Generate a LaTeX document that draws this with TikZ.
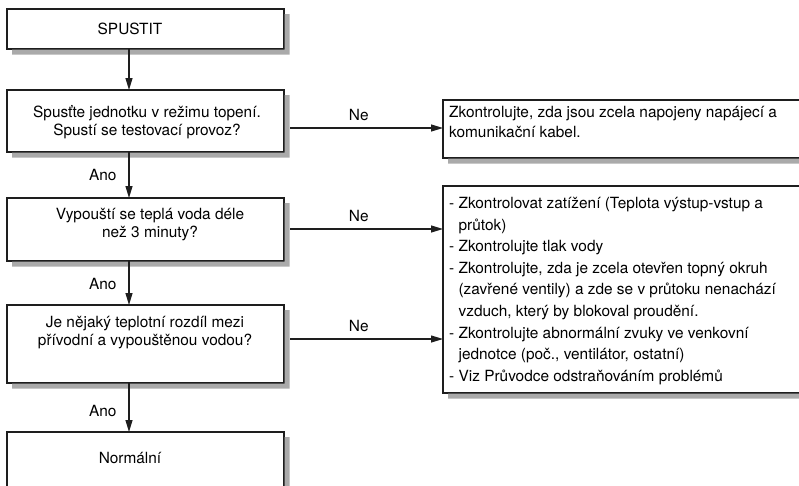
\documentclass[tikz,border=0pt]{standalone}
\usepackage{fontspec}
\setmainfont{TeX Gyre Heros}
\usetikzlibrary{arrows.meta}
\definecolor{shadowgray}{RGB}{170,170,170}
\definecolor{linegray}{RGB}{30,30,30}
\begin{document}
\begin{tikzpicture}[x=1pt,y=-1pt,
  box/.style={draw=linegray, line width=1.1pt, fill=white, inner sep=0pt, outer sep=0pt, anchor=north west},
  lbox/.style={box, minimum width=277pt},
  rbox/.style={box, minimum width=390pt},
  shadowbox/.style={fill=shadowgray, draw=none},
  txt/.style={inner sep=0pt, font=\fontsize{15.4}{18}\selectfont, align=center},
  rtxt/.style={inner sep=0pt, anchor=north west, align=left},
  arr/.style={draw=linegray, line width=1.1pt, -{Triangle[length=12pt,width=7pt]}},
  lab/.style={inner sep=0pt, font=\fontsize{15.4}{18}\selectfont}
]
\useasboundingbox (0,0) rectangle (799,485);
% boxes
\node[lbox, minimum height=40pt] (b1) at (7,9) {};
\node[lbox, minimum height=62pt] (b2) at (7,90) {};
\node[lbox, minimum height=63pt] (b3) at (7,198) {};
\node[lbox, minimum height=78pt] (b4) at (7,305) {};
\node[lbox, minimum height=80pt] (b5) at (7,432) {};
\node[rbox, minimum height=58pt] (r1) at (443,100) {};
\node[rbox, minimum height=207pt] (r2) at (443,186) {};
% shadows (strips outside each box)
\foreach \b in {b1,b2,b3,b4,b5,r1,r2}{
  \fill[shadowbox] ([xshift=0.6pt,yshift=-5pt]\b.north east)
    -- ([xshift=5.5pt,yshift=-5pt]\b.north east)
    -- ([xshift=5.5pt,yshift=-5.5pt]\b.south east)
    -- ([xshift=5pt,yshift=-5.5pt]\b.south west)
    -- ([xshift=5pt,yshift=-0.6pt]\b.south west)
    -- ([xshift=0.6pt,yshift=-0.6pt]\b.south east) -- cycle;
}
% texts
\node[txt] (t1) at (130,29) {SPUSTIT};
\node[txt] (t2) at (147,122) {Spusťte jednotku v režimu topení.\\Spustí se testovací provoz?};
\node[txt] (t3) at (150,225) {Vypouští se teplá voda déle\\než 3 minuty?};
\node[txt] (t4) at (145,333) {Je nějaký teplotní rozdíl mezi\\přívodní a vypouštěnou vodou?};
\node[txt] (t5) at (130,458) {Normální};
\node[rtxt, font=\fontsize{15.4}{20}\selectfont] (rt1) at (449,106)
  {Zkontrolujte, zda jsou zcela napojeny napájecí a\\komunikační kabel.};
\node[rtxt, font=\fontsize{15.4}{21.6}\selectfont] (rt2) at (449,197)
  {- Zkontrolovat zatížení (Teplota výstup-vstup a\\
   \phantom{- }průtok)\\
   - Zkontrolujte tlak vody\\
   - Zkontrolujte, zda je zcela otevřen topný okruh\\
   \phantom{- }(zavřené ventily) a zde se v průtoku nenachází\\
   \phantom{- }vzduch, který by blokoval proudění.\\
   - Zkontrolujte abnormální zvuky ve venkovní\\
   \phantom{- }jednotce (poč., ventilátor, ostatní)\\
   - Viz Průvodce odstraňováním problémů};
% connectors
\coordinate (ax) at (129,0);
\coordinate (y1) at (0,128);
\coordinate (y2) at (0,229);
\coordinate (y3) at (0,339);
\draw[arr] (b1.south -| ax) -- (b2.north -| ax);
\draw[arr] (b2.south -| ax) -- node[lab, pos=0.5, left=12pt] (a1) {Ano} (b3.north -| ax);
\draw[arr] (b3.south -| ax) -- node[lab, pos=0.52, left=12pt] (a2) {Ano} (b4.north -| ax);
\draw[arr] (b4.south -| ax) -- node[lab, pos=0.58, left=12pt] (a3) {Ano} (b5.north -| ax);
\draw[arr, shorten <=6pt] (b2.east |- y1) -- node[lab, pos=0.47, above=7pt] (n1) {Ne} (r1.west |- y1);
\draw[arr, shorten <=6pt] (b3.east |- y2) -- node[lab, pos=0.47, above=7pt] (n2) {Ne} (r2.west |- y2);
\draw[arr, shorten <=6pt] (b4.east |- y3) -- node[lab, pos=0.47, above=7pt] (n3) {Ne} (r2.west |- y3);
\end{tikzpicture}
\end{document}
